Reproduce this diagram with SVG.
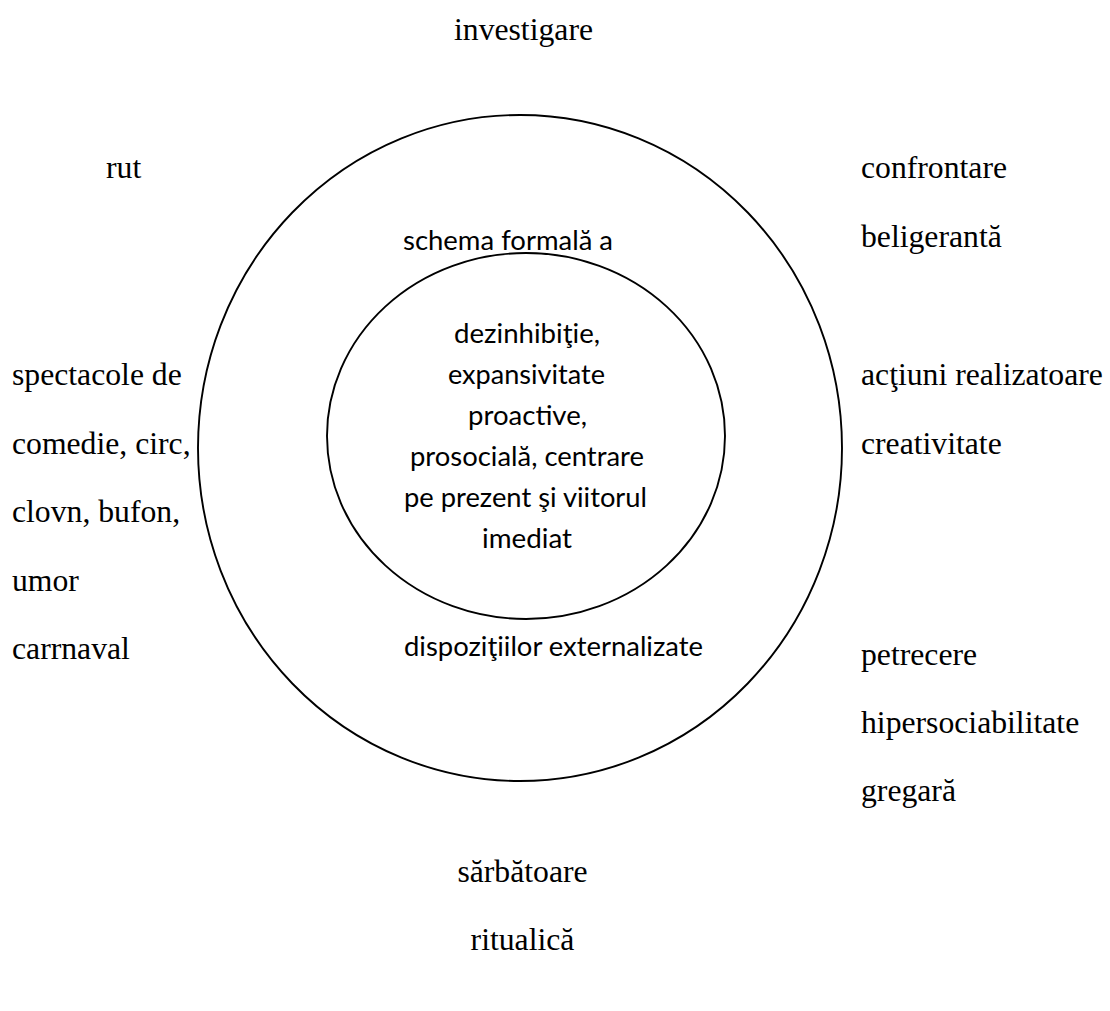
<svg xmlns="http://www.w3.org/2000/svg" width="1110" height="1011" viewBox="0 0 1110 1011">
  <style>
    .ring { fill: none; stroke: #000; stroke-width: 1.9; }
    .outer-label { font-family: "Liberation Serif", "Times New Roman", serif; font-size: 31.7px; fill: #000; }
    .inner-label { font-family: Lato, "Liberation Sans", sans-serif; font-size: 27px; fill: #000; }
  </style>
  <rect width="1110" height="1011" fill="#fff"/>

  <!-- rings -->
  <g id="outer-ring">
    <ellipse class="ring" cx="520" cy="448" rx="322" ry="333"/>
  </g>
  <g id="inner-ring">
    <ellipse class="ring" cx="526" cy="436" rx="199" ry="183"/>
  </g>

  <g id="connectors"></g>

  <!-- labels inside the rings -->
  <g id="outer-ring-labels" class="inner-label">
    <text x="403" y="249.5" textLength="210" lengthAdjust="spacingAndGlyphs">schema formală a</text>
    <text x="404" y="656" textLength="299" lengthAdjust="spacingAndGlyphs">dispoziţiilor externalizate</text>
  </g>
  <g id="core-labels" class="inner-label">
    <text x="454" y="342.5" textLength="146" lengthAdjust="spacingAndGlyphs">dezinhibiţie,</text>
    <text x="448" y="383.5" textLength="157" lengthAdjust="spacingAndGlyphs">expansivitate</text>
    <text x="468" y="424.5" textLength="119" lengthAdjust="spacingAndGlyphs">proactive,</text>
    <text x="410" y="465.5" textLength="234" lengthAdjust="spacingAndGlyphs">prosocială, centrare</text>
    <text x="404" y="506.5" textLength="243" lengthAdjust="spacingAndGlyphs">pe prezent şi viitorul</text>
    <text x="482" y="547.5" textLength="90" lengthAdjust="spacingAndGlyphs">imediat</text>
  </g>

  <!-- surrounding labels -->
  <g id="top-label" class="outer-label">
    <text x="523.5" y="39.5" text-anchor="middle">investigare</text>
  </g>
  <g id="top-left-label" class="outer-label">
    <text x="106" y="178">rut</text>
  </g>
  <g id="top-right-label" class="outer-label">
    <text x="861" y="178">confrontare</text>
    <text x="861" y="246.5">beligerantă</text>
  </g>
  <g id="left-label" class="outer-label">
    <text x="12" y="385">spectacole de</text>
    <text x="12" y="453.5">comedie, circ,</text>
    <text x="12" y="522">clovn, bufon,</text>
    <text x="12" y="590.5">umor</text>
    <text x="12" y="659">carrnaval</text>
  </g>
  <g id="right-label" class="outer-label">
    <text x="861" y="385">acţiuni realizatoare</text>
    <text x="861" y="453.5">creativitate</text>
  </g>
  <g id="bottom-right-label" class="outer-label">
    <text x="861" y="665">petrecere</text>
    <text x="861" y="733">hipersociabilitate</text>
    <text x="861" y="801">gregară</text>
  </g>
  <g id="bottom-label" class="outer-label">
    <text x="522.5" y="882" text-anchor="middle">sărbătoare</text>
    <text x="522.5" y="950" text-anchor="middle">ritualică</text>
  </g>
</svg>
